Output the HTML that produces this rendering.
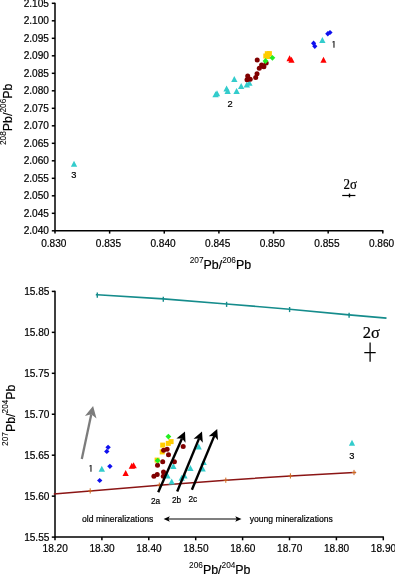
<!DOCTYPE html>
<html lang="en"><head><meta charset="utf-8"><title>Pb isotope plots</title>
<style>html,body{margin:0;padding:0;background:#fff}body{width:395px;height:575px;overflow:hidden}svg{display:block}text{font-family:'Liberation Sans', Arial, Helvetica, sans-serif;fill:#000;stroke:#000;stroke-width:0.2px}</style>
</head><body>
<svg width="395" height="575" viewBox="0 0 395 575">
<rect width="395" height="575" fill="#fff"/>
<g stroke="#000" stroke-width="1.5" fill="none">
<path d="M55.0,2.6999999999999997 V230.8 H383.40000000000003"/>
<path d="M51.8,3.30 H55.0"/>
<path d="M51.8,20.80 H55.0"/>
<path d="M51.8,38.30 H55.0"/>
<path d="M51.8,55.80 H55.0"/>
<path d="M51.8,73.30 H55.0"/>
<path d="M51.8,90.80 H55.0"/>
<path d="M51.8,108.30 H55.0"/>
<path d="M51.8,125.80 H55.0"/>
<path d="M51.8,143.30 H55.0"/>
<path d="M51.8,160.80 H55.0"/>
<path d="M51.8,178.30 H55.0"/>
<path d="M51.8,195.80 H55.0"/>
<path d="M51.8,213.30 H55.0"/>
<path d="M51.8,230.80 H55.0"/>
<path d="M55.00,230.8 V233.60000000000002"/>
<path d="M109.63,230.8 V233.60000000000002"/>
<path d="M164.27,230.8 V233.60000000000002"/>
<path d="M218.90,230.8 V233.60000000000002"/>
<path d="M273.53,230.8 V233.60000000000002"/>
<path d="M328.17,230.8 V233.60000000000002"/>
<path d="M382.80,230.8 V233.60000000000002"/>
</g>
<g font-size="10.1" text-anchor="end">
<text x="48.9" y="6.90">2.105</text>
<text x="48.9" y="24.40">2.100</text>
<text x="48.9" y="41.90">2.095</text>
<text x="48.9" y="59.40">2.090</text>
<text x="48.9" y="76.90">2.085</text>
<text x="48.9" y="94.40">2.080</text>
<text x="48.9" y="111.90">2.075</text>
<text x="48.9" y="129.40">2.070</text>
<text x="48.9" y="146.90">2.065</text>
<text x="48.9" y="164.40">2.060</text>
<text x="48.9" y="181.90">2.055</text>
<text x="48.9" y="199.40">2.050</text>
<text x="48.9" y="216.90">2.045</text>
<text x="48.9" y="234.40">2.040</text>
</g>
<g font-size="10.1" text-anchor="middle">
<text x="53.80" y="247.2">0.830</text>
<text x="108.43" y="247.2">0.835</text>
<text x="163.07" y="247.2">0.840</text>
<text x="217.70" y="247.2">0.845</text>
<text x="272.33" y="247.2">0.850</text>
<text x="326.97" y="247.2">0.855</text>
<text x="381.60" y="247.2">0.860</text>
</g>
<text x="220.4" y="268.7" font-size="12.4" text-anchor="middle"><tspan font-size="8.3" dy="-6.2" stroke-width="0.05">207</tspan><tspan dy="6.2">Pb/</tspan><tspan font-size="8.3" dy="-6.2" stroke-width="0.05">206</tspan><tspan dy="6.2">Pb</tspan></text>
<text x="12" y="114.3" font-size="12.4" text-anchor="middle" transform="rotate(-90 12 114.3)"><tspan font-size="8.3" dy="-6.2" stroke-width="0.05">208</tspan><tspan dy="6.2">Pb/</tspan><tspan font-size="8.3" dy="-6.2" stroke-width="0.05">206</tspan><tspan dy="6.2">Pb</tspan></text>
<polygon points="215.6,91.2 218.8,97.2 212.4,97.2" fill="#33cccc"/>
<polygon points="217.0,90.3 220.2,96.3 213.8,96.3" fill="#33cccc"/>
<polygon points="226.6,85.5 229.8,91.5 223.4,91.5" fill="#33cccc"/>
<polygon points="227.7,87.9 230.8,93.9 224.5,93.9" fill="#33cccc"/>
<polygon points="234.3,76.0 237.5,82.0 231.2,82.0" fill="#33cccc"/>
<polygon points="236.6,87.9 239.8,93.9 233.4,93.9" fill="#33cccc"/>
<polygon points="241.2,82.9 244.3,88.9 238.0,88.9" fill="#33cccc"/>
<polygon points="246.8,81.6 250.0,87.6 243.7,87.6" fill="#33cccc"/>
<polygon points="249.4,79.8 252.6,85.8 246.2,85.8" fill="#33cccc"/>
<polygon points="322.4,37.0 325.5,43.0 319.2,43.0" fill="#33cccc"/>
<circle cx="257.2" cy="60.1" r="2.5" fill="#800000"/>
<circle cx="261.6" cy="65.1" r="2.5" fill="#800000"/>
<circle cx="263.9" cy="66.8" r="2.5" fill="#800000"/>
<circle cx="259.3" cy="68.3" r="2.5" fill="#800000"/>
<circle cx="262.6" cy="65.9" r="2.5" fill="#800000"/>
<circle cx="266.2" cy="63.1" r="2.5" fill="#800000"/>
<circle cx="257.0" cy="73.8" r="2.5" fill="#800000"/>
<circle cx="255.7" cy="77.4" r="2.5" fill="#800000"/>
<circle cx="247.7" cy="76.1" r="2.5" fill="#800000"/>
<circle cx="247.0" cy="79.7" r="2.5" fill="#800000"/>
<circle cx="250.2" cy="79.3" r="2.5" fill="#800000"/>
<rect x="264.8" y="51.2" width="5.0" height="5.0" fill="#ffcc00"/>
<rect x="266.9" y="51.1" width="5.0" height="5.0" fill="#ffcc00"/>
<rect x="263.3" y="53.5" width="5.0" height="5.0" fill="#ffcc00"/>
<rect x="265.5" y="54.0" width="5.0" height="5.0" fill="#ffcc00"/>
<polygon points="265.5,58.1 268.4,61.0 265.5,63.9 262.6,61.0" fill="#22ee22"/>
<polygon points="272.4,54.9 275.3,57.8 272.4,60.7 269.5,57.8" fill="#22ee22"/>
<polygon points="289.6,55.3 292.8,61.3 286.5,61.3" fill="#ff0000"/>
<polygon points="291.5,56.8 294.6,62.8 288.4,62.8" fill="#ff0000"/>
<polygon points="323.5,56.8 326.6,62.8 320.4,62.8" fill="#ff0000"/>
<polygon points="330.0,29.9 332.6,32.5 330.0,35.1 327.4,32.5" fill="#1010ee"/>
<polygon points="327.8,31.1 330.4,33.8 327.8,36.4 325.2,33.8" fill="#1010ee"/>
<polygon points="313.6,40.6 316.2,43.2 313.6,45.9 311.0,43.2" fill="#1010ee"/>
<polygon points="314.8,43.6 317.4,46.2 314.8,48.9 312.2,46.2" fill="#1010ee"/>
<polygon points="74.0,160.8 77.2,166.8 70.9,166.8" fill="#33cccc"/>
<g font-size="9.3" text-anchor="middle">
<text x="333.8" y="47.8" style="font-family:'IPAGothic','Liberation Sans',sans-serif">1</text><text x="230" y="106.9">2</text><text x="73.9" y="178.4">3</text>
</g>
<text transform="translate(350.2,188.9) scale(0.96,1.13)" x="0" y="0" font-size="13.5" text-anchor="middle" style="font-family:'Liberation Serif', 'Times New Roman', serif">2σ</text>
<path d="M342.2,195.5 H355.4" stroke="#000" stroke-width="1.2" fill="none"/><path d="M349.5,193.6 V197.4" stroke="#000" stroke-width="1.4" fill="none"/>
<g stroke="#000" stroke-width="1.5" fill="none">
<path d="M55.0,290.79999999999995 V537.1 H383.90000000000003"/>
<path d="M51.8,291.40 H55.0"/>
<path d="M51.8,332.35 H55.0"/>
<path d="M51.8,373.30 H55.0"/>
<path d="M51.8,414.25 H55.0"/>
<path d="M51.8,455.20 H55.0"/>
<path d="M51.8,496.15 H55.0"/>
<path d="M51.8,537.10 H55.0"/>
<path d="M55.00,537.1 V540.3000000000001"/>
<path d="M101.90,537.1 V540.3000000000001"/>
<path d="M148.80,537.1 V540.3000000000001"/>
<path d="M195.70,537.1 V540.3000000000001"/>
<path d="M242.60,537.1 V540.3000000000001"/>
<path d="M289.50,537.1 V540.3000000000001"/>
<path d="M336.40,537.1 V540.3000000000001"/>
<path d="M383.30,537.1 V540.3000000000001"/>
</g>
<g font-size="10.1" text-anchor="end">
<text x="49.4" y="295.00">15.85</text>
<text x="49.4" y="335.95">15.80</text>
<text x="49.4" y="376.90">15.75</text>
<text x="49.4" y="417.85">15.70</text>
<text x="49.4" y="458.80">15.65</text>
<text x="49.4" y="499.75">15.60</text>
<text x="49.4" y="540.70">15.55</text>
</g>
<g font-size="10.1" text-anchor="middle">
<text x="55.20" y="552.4">18.20</text>
<text x="102.10" y="552.4">18.30</text>
<text x="149.00" y="552.4">18.40</text>
<text x="195.90" y="552.4">18.50</text>
<text x="242.80" y="552.4">18.60</text>
<text x="289.70" y="552.4">18.70</text>
<text x="336.60" y="552.4">18.80</text>
<text x="383.50" y="552.4">18.90</text>
</g>
<text x="219.8" y="574.2" font-size="12.4" text-anchor="middle"><tspan font-size="8.3" dy="-6.2" stroke-width="0.05">206</tspan><tspan dy="6.2">Pb/</tspan><tspan font-size="8.3" dy="-6.2" stroke-width="0.05">204</tspan><tspan dy="6.2">Pb</tspan></text>
<text x="14.6" y="415.2" font-size="12.4" text-anchor="middle" transform="rotate(-90 14.6 415.2)"><tspan font-size="8.3" dy="-6.2" stroke-width="0.05">207</tspan><tspan dy="6.2">Pb/</tspan><tspan font-size="8.3" dy="-6.2" stroke-width="0.05">204</tspan><tspan dy="6.2">Pb</tspan></text>
<g stroke="#158c8c" stroke-width="1.6" fill="none">
<path d="M95.8,294.7 L97.3,294.8 L163.3,298.9 L226.6,304 L289.6,309.2 L349.1,314.9 L386.5,318.1"/>
<path d="M97.3,292.6 V297.7" stroke-width="1.4"/>
<path d="M163.3,296.7 V301.8" stroke-width="1.4"/>
<path d="M226.6,301.8 V306.9" stroke-width="1.4"/>
<path d="M289.6,307.0 V312.1" stroke-width="1.4"/>
<path d="M349.1,312.7 V317.8" stroke-width="1.4"/>
</g>
<path d="M53.8,494 L90.2,490.9 L159.3,485.2 L225.8,480.2 L290.4,475.9 L354,472.5 L356,472.4" stroke="#8b1515" stroke-width="1.5" fill="none"/>
<g stroke="#cf6a20" stroke-width="1" fill="none">
<path d="M90.2,488.3 V493.5 M88.0,490.9 H92.4"/>
<path d="M159.3,482.6 V487.8 M157.10000000000002,485.2 H161.5"/>
<path d="M225.8,477.6 V482.8 M223.60000000000002,480.2 H228.0"/>
<path d="M290.4,473.3 V478.5 M288.2,475.9 H292.59999999999997"/>
<path d="M354,469.9 V475.1 M351.8,472.5 H356.2"/>
</g>
<polygon points="101.8,465.7 105.0,471.7 98.6,471.7" fill="#33cccc"/>
<polygon points="198.7,443.4 201.8,449.4 195.5,449.4" fill="#33cccc"/>
<polygon points="173.3,463.0 176.5,469.0 170.2,469.0" fill="#33cccc"/>
<polygon points="190.4,465.1 193.6,471.1 187.2,471.1" fill="#33cccc"/>
<polygon points="203.7,459.1 206.8,465.1 200.5,465.1" fill="#33cccc"/>
<polygon points="202.6,465.4 205.8,471.4 199.4,471.4" fill="#33cccc"/>
<polygon points="167.4,472.6 170.6,478.6 164.2,478.6" fill="#33cccc"/>
<polygon points="171.7,478.6 174.8,484.6 168.5,484.6" fill="#33cccc"/>
<polygon points="181.7,474.8 184.8,480.8 178.5,480.8" fill="#33cccc"/>
<polygon points="184.4,472.6 187.6,478.6 181.2,478.6" fill="#33cccc"/>
<polygon points="352.0,439.8 355.1,445.8 348.9,445.8" fill="#33cccc"/>
<rect x="168.6" y="439.1" width="5.0" height="5.0" fill="#ffcc00"/>
<rect x="165.8" y="440.9" width="5.0" height="5.0" fill="#ffcc00"/>
<rect x="160.2" y="442.6" width="5.0" height="5.0" fill="#ffcc00"/>
<rect x="159.7" y="449.4" width="5.0" height="5.0" fill="#ffcc00"/>
<rect x="154.6" y="457.6" width="5.0" height="5.0" fill="#ffcc00"/>
<circle cx="183.2" cy="446.4" r="2.5" fill="#800000"/>
<circle cx="163.6" cy="450.2" r="2.5" fill="#800000"/>
<circle cx="167.1" cy="449.3" r="2.5" fill="#800000"/>
<circle cx="168.5" cy="454.7" r="2.5" fill="#800000"/>
<circle cx="162.7" cy="461.8" r="2.5" fill="#800000"/>
<circle cx="174.4" cy="461.8" r="2.5" fill="#800000"/>
<circle cx="157.5" cy="465.3" r="2.5" fill="#800000"/>
<circle cx="163.5" cy="472.0" r="2.5" fill="#800000"/>
<circle cx="153.9" cy="476.3" r="2.5" fill="#800000"/>
<circle cx="157.2" cy="474.6" r="2.5" fill="#800000"/>
<circle cx="163.3" cy="476.3" r="2.5" fill="#800000"/>
<polygon points="168.4,433.7 171.3,436.6 168.4,439.5 165.5,436.6" fill="#22ee22"/>
<polygon points="157.7,457.7 160.6,460.6 157.7,463.5 154.8,460.6" fill="#22ee22"/>
<polygon points="131.8,462.8 135.0,468.8 128.7,468.8" fill="#ff0000"/>
<polygon points="133.6,462.2 136.8,468.2 130.4,468.2" fill="#ff0000"/>
<polygon points="125.7,470.1 128.8,476.1 122.5,476.1" fill="#ff0000"/>
<polygon points="108.1,444.7 110.8,447.3 108.1,449.9 105.4,447.3" fill="#1010ee"/>
<polygon points="106.8,448.8 109.5,451.4 106.8,454.0 104.1,451.4" fill="#1010ee"/>
<polygon points="109.9,463.7 112.6,466.3 109.9,468.9 107.2,466.3" fill="#1010ee"/>
<polygon points="99.7,477.9 102.4,480.5 99.7,483.1 97.0,480.5" fill="#1010ee"/>
<path d="M81.8,458.9 L91.3,414.3" stroke="#7c7c7c" stroke-width="2.3" fill="none"/>
<polygon points="93.1,405.9 96.5,418.4 91.3,414.3 84.9,415.9" fill="#7c7c7c"/>
<path d="M158.2,492.3 L182.0,438.4" stroke="#000" stroke-width="2.4" fill="none"/>
<polygon points="185.0,431.5 185.5,442.7 182.0,438.4 176.4,438.6" fill="#000"/>
<path d="M177.2,491.5 L199.1,438.4" stroke="#000" stroke-width="2.4" fill="none"/>
<polygon points="202.0,431.5 202.8,442.7 199.1,438.4 193.6,438.8" fill="#000"/>
<path d="M191.9,489.7 L214.3,435.9" stroke="#000" stroke-width="2.4" fill="none"/>
<polygon points="217.2,429.0 218.0,440.2 214.3,435.9 208.7,436.3" fill="#000"/>
<path d="M167,519 H238" stroke="#000" stroke-width="1.2" fill="none"/>
<polygon points="163.6,519 169.8,516.2 168.4,519 169.8,521.8" fill="#000"/>
<polygon points="241.5,519 235.3,516.2 236.7,519 235.3,521.8" fill="#000"/>
<g font-size="8.6">
<text x="82.1" y="521.6">old mineralizations</text>
<text x="249.7" y="521.6">young mineralizations</text>
</g>
<g font-size="9.3" text-anchor="middle">
<text x="90.9" y="471.8" style="font-family:'IPAGothic','Liberation Sans',sans-serif">1</text><text x="155.6" y="504" font-size="8.3">2a</text><text x="176.5" y="503.3" font-size="8.3">2b</text><text x="192.8" y="501.9" font-size="8.3">2c</text><text x="351.8" y="458.9">3</text>
</g>
<text x="371.3" y="338.4" font-size="16.5" text-anchor="middle" style="font-family:'Liberation Serif', 'Times New Roman', serif">2σ</text>
<path d="M364.3,352.7 H375.7 M370.1,342.5 V361.8" stroke="#000" stroke-width="1.25" fill="none"/>
</svg></body></html>
